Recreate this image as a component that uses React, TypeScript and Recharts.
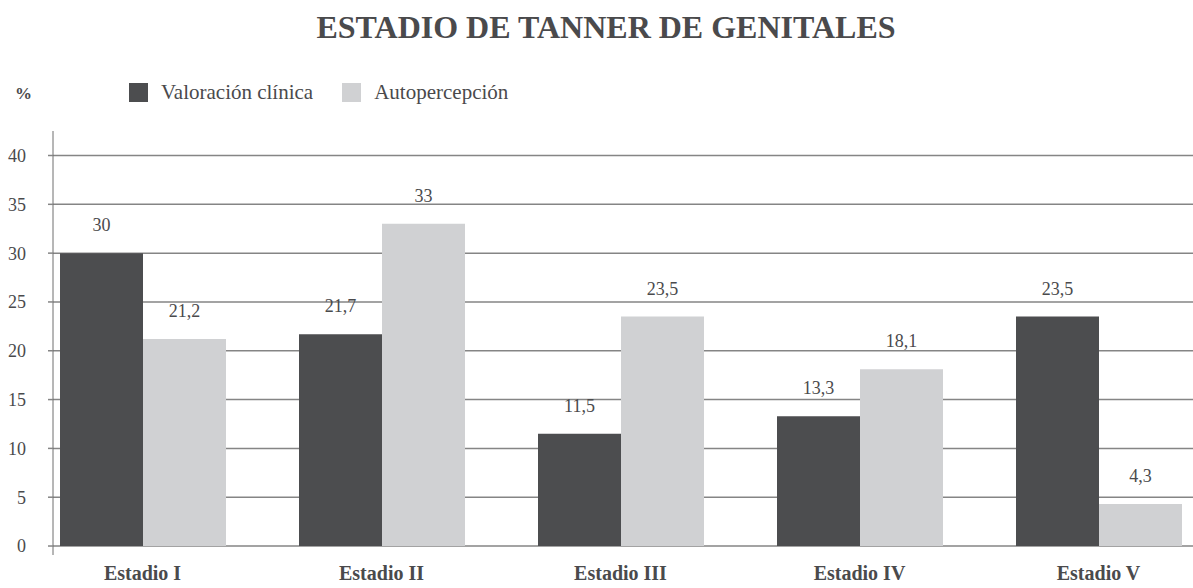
import { BarChart, Bar, XAxis, YAxis, CartesianGrid, LabelList } from "recharts";

const categories = ["Estadio I", "Estadio II", "Estadio III", "Estadio IV", "Estadio V"];
const valoracionClinica = [30, 21.7, 11.5, 13.3, 23.5];
const autopercepcion = [21.2, 33, 23.5, 18.1, 4.3];
const yTicks = [0, 5, 10, 15, 20, 25, 30, 35, 40];

const series = [
  { key: "clinica", name: "Valoración clínica", color: "#4c4d4f" },
  { key: "auto", name: "Autopercepción", color: "#d0d1d3" },
];

const data = categories.map((name, i) => ({
  name,
  clinica: valoracionClinica[i],
  auto: autopercepcion[i],
}));

const FONT = '"Liberation Serif", "Times New Roman", serif';
const TEXT = "#4a4a4c";

const fmt = (v: any) => String(v).replace(".", ",");

export default function App() {
  return (
    <div style={{ position: "absolute", left: 0, top: 0, width: 1193, height: 588, background: "#fff", fontFamily: FONT }}>
      <div
        style={{
          position: "absolute",
          left: 0,
          top: 11,
          width: 1212,
          textAlign: "center",
          fontSize: 32,
          lineHeight: "32px",
          fontWeight: "bold",
          color: TEXT,
        }}
      >
        ESTADIO DE TANNER DE GENITALES
      </div>
      <div
        style={{
          position: "absolute",
          left: 15,
          top: 85,
          fontSize: 17,
          lineHeight: "17px",
          fontWeight: "bold",
          color: TEXT,
        }}
      >
        %
      </div>
      <div
        style={{
          position: "absolute",
          left: 129,
          top: 83,
          height: 19,
          display: "flex",
          alignItems: "center",
          fontSize: 21,
          color: TEXT,
        }}
      >
        {series.map((s) => (
          <div key={s.key} style={{ display: "flex", alignItems: "center", marginRight: 29 }}>
            <div style={{ width: 19, height: 19, background: s.color, marginRight: 13 }} />
            <span style={{ lineHeight: "19px" }}>{s.name}</span>
          </div>
        ))}
      </div>
      <BarChart
        width={1193}
        height={588}
        data={data}
        margin={{ top: 131, right: 0, bottom: 0, left: 0 }}
        barGap={0}
        style={{ position: "absolute", left: 0, top: 0 }}
      >
        <CartesianGrid vertical={false} horizontalValues={yTicks} stroke="#858585" strokeWidth={1.5} />
        <XAxis
          dataKey="name"
          height={33}
          axisLine={false}
          tickLine={false}
          tickSize={0}
          tickMargin={11}
          padding={{ left: -30, right: -25 }}
          tick={{ fill: TEXT, fontSize: 20, fontWeight: "bold", fontFamily: FONT }}
        />
        <YAxis
          width={53}
          domain={[-0.92, 42.51]}
          ticks={yTicks}
          interval={0}
          axisLine={{ stroke: "#6e6e6e", strokeWidth: 1 }}
          tickLine={{ stroke: "#858585", strokeWidth: 1.5 }}
          tickSize={5}
          tickMargin={22}
          tick={{ fill: TEXT, fontSize: 18, fontFamily: FONT }}
        />
        {series.map((s) => (
          <Bar key={s.key} dataKey={s.key} name={s.name} fill={s.color} barSize={83} isAnimationActive={false}>
            <LabelList
              dataKey={s.key}
              position="top"
              offset={22}
              formatter={fmt}
              style={{ fill: TEXT, fontSize: 18, fontFamily: FONT }}
            />
          </Bar>
        ))}
      </BarChart>
    </div>
  );
}
